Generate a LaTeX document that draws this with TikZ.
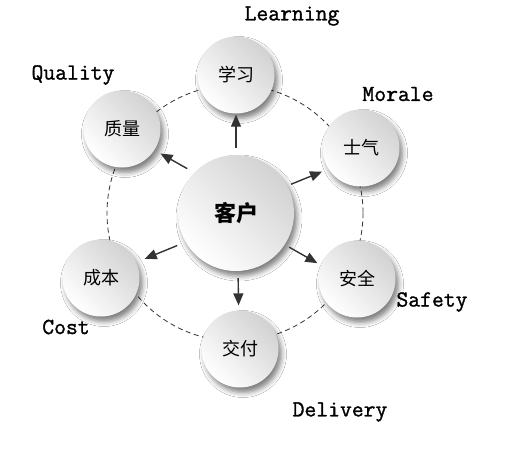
\documentclass[tikz,border=0pt]{standalone}
\usepackage{fontspec}
\newfontfamily\cjk{Noto Sans CJK SC}
\newfontfamily\lab{Latin Modern Mono}[FakeBold=1.2]
\usetikzlibrary{arrows.meta,shadows.blur}
\begin{document}
\begin{tikzpicture}[x=1pt,y=-1pt,
  ball/.style={circle, minimum size=77pt, inner sep=0pt,
    bottom color=white, top color=gray!35, shading angle=-45,
    blur shadow={shadow xshift=3pt, shadow yshift=-5pt, shadow blur radius=5pt, shadow opacity=50},
    font=\cjk\fontsize{18}{18}\selectfont},
  big/.style={ball, minimum size=116pt, font=\cjk\bfseries\fontsize{22}{22}\selectfont},
  lbl/.style={font=\lab\fontsize{23}{23}\selectfont},
  arr/.style={draw=black!80, line width=1.4pt, -{Triangle[length=12pt,width=10pt]}},
  ring/.style={draw=black!80, dash pattern=on 5pt off 3.5pt, line width=0.8pt}]
\useasboundingbox[fill=white] (0,0) rectangle (527,451);
\coordinate (o) at (235,213);
\draw[ring] (o) circle[radius=128];
\node[big]  (c)  at (236,213) {客户};
\node[ball] (xx) at (236,75)  {学习};
\node[ball] (zl) at (122,129) {质量};
\node[ball] (sq) at (361,148) {士气};
\node[ball] (aq) at (357,279) {安全};
\node[ball] (jf) at (240,349) {交付};
\node[ball] (cb) at (101,278) {成本};
\draw[arr, shorten <=7pt, shorten >=1pt] (c.90) -- (xx.-90);
\draw[arr, shorten <=8pt, shorten >=7pt] (c.136) -- (zl.-33);
\draw[arr, shorten <=4pt, shorten >=7pt] (c.28) -- (sq.213);
\draw[arr, shorten <=5pt, shorten >=4pt] (c.-33) -- (aq.159);
\draw[arr, shorten <=7pt, shorten >=5pt] (c.-88) -- (jf.92);
\draw[arr, shorten <=9pt, shorten >=9pt] (c.210) -- (cb.24);
\node[lbl] (lx) at (292,16)  {Learning};
\node[lbl] (lz) at (73,75)   {Quality};
\node[lbl] (ls) at (398,94)  {Morale};
\node[lbl] (la) at (432,302) {Safety};
\node[lbl] (lc) at (66,327)  {Cost};
\node[lbl] (lj) at (340,412) {Delivery};
\end{tikzpicture}
\end{document}
